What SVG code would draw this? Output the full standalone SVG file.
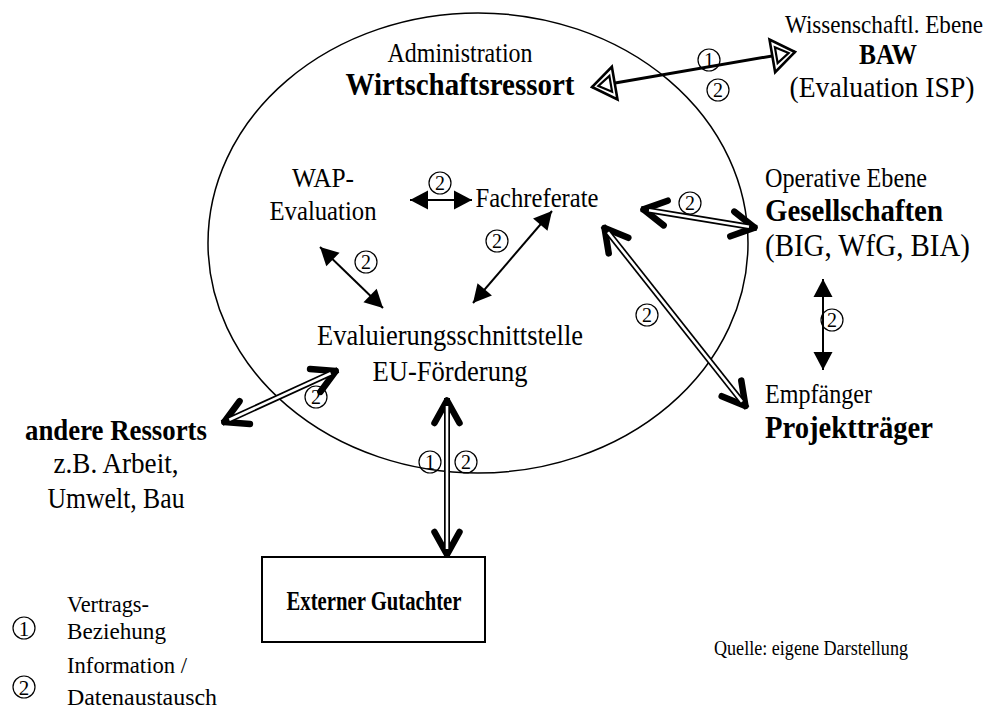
<svg xmlns="http://www.w3.org/2000/svg" width="999" height="727" viewBox="0 0 999 727">
<style>
text{font-family:"Liberation Serif","Times New Roman",serif;fill:#000}
.n{font-size:27px}
.b{font-size:31px;font-weight:bold}
.m{text-anchor:middle}
.num{font-size:20px;text-anchor:middle}
.nc{fill:none;stroke:#000;stroke-width:1.2}
.thin{stroke:#000;stroke-width:2;fill:none;marker-start:url(#tri);marker-end:url(#tri)}
.dblo{stroke:#000;stroke-width:6;fill:none;marker-start:url(#chev);marker-end:url(#chev)}
.dbli{stroke:#fff;stroke-width:2.6;fill:none}
</style>
<defs>
<marker id="chev" markerUnits="userSpaceOnUse" orient="auto-start-reverse" markerWidth="60" markerHeight="60" refX="0" refY="0" viewBox="-30 -30 60 60" overflow="visible">
<path d="M-25,-12.5 L-2.5,0 L-25,12.5" fill="none" stroke="#000" stroke-width="6.5" stroke-linecap="round" stroke-linejoin="round"/>
</marker>
<marker id="tri" markerUnits="userSpaceOnUse" orient="auto-start-reverse" markerWidth="40" markerHeight="40" refX="0" refY="0" viewBox="-20 -20 40 40" overflow="visible">
<path d="M0,0 L-18,-9.5 L-18,9.5 Z" fill="#000"/>
</marker>
<marker id="hol" markerUnits="userSpaceOnUse" orient="auto-start-reverse" markerWidth="60" markerHeight="60" refX="0" refY="0" viewBox="-30 -30 60 60" overflow="visible">
<path d="M0,0 L-23,-16.5 L-23,16.5 Z" fill="#fff" stroke="#000" stroke-width="2.6" stroke-linejoin="miter"/>
<path d="M-6.5,0 L-19,-8 L-19,8 Z" fill="#fff" stroke="#000" stroke-width="2.2"/>
</marker>
</defs>
<rect width="999" height="727" fill="#fff"/>
<ellipse cx="478" cy="243" rx="270" ry="230" fill="none" stroke="#000" stroke-width="1.5"/>

<g id="connectors">
<line x1="592" y1="87" x2="795" y2="52" stroke="#000" stroke-width="3" marker-start="url(#hol)" marker-end="url(#hol)"/>
<line class="thin" x1="410" y1="200" x2="472" y2="200"/>
<line class="thin" x1="320" y1="247" x2="383" y2="308"/>
<line class="thin" x1="552" y1="211" x2="473" y2="303"/>
<line class="thin" x1="823" y1="279" x2="823" y2="370"/>
<line class="dblo" x1="641" y1="209" x2="757" y2="228"/>
<line class="dbli" x1="649" y1="210.3" x2="749" y2="226.7"/>
<line class="dblo" x1="603" y1="226" x2="747" y2="408"/>
<line class="dbli" x1="608" y1="232.3" x2="742" y2="401.7"/>
<line class="dblo" x1="222" y1="423" x2="338" y2="370"/>
<line class="dbli" x1="229.3" y1="419.7" x2="330.7" y2="373.3"/>
<line class="dblo" x1="447" y1="398" x2="447" y2="557"/>
<line class="dbli" x1="447" y1="406" x2="447" y2="549"/>
<g id="labels">
<circle class="nc" cx="709" cy="60" r="11"/><text class="num" x="709" y="67">1</text>
<circle class="nc" cx="718" cy="90" r="11"/><text class="num" x="718" y="97">2</text>
<circle class="nc" cx="440" cy="183" r="11"/><text class="num" x="440" y="190">2</text>
<circle class="nc" cx="690" cy="203" r="11"/><text class="num" x="690" y="210">2</text>
<circle class="nc" cx="366" cy="262" r="11"/><text class="num" x="366" y="269">2</text>
<circle class="nc" cx="497" cy="241" r="11"/><text class="num" x="497" y="248">2</text>
<circle class="nc" cx="647" cy="315" r="11"/><text class="num" x="647" y="322">2</text>
<circle class="nc" cx="832" cy="320" r="11"/><text class="num" x="832" y="327">2</text>
<circle class="nc" cx="316" cy="397" r="11"/><text class="num" x="316" y="404">2</text>
<circle class="nc" cx="430" cy="462" r="11"/><text class="num" x="430" y="469">1</text>
<circle class="nc" cx="466" cy="462" r="11"/><text class="num" x="466" y="469">2</text>
</g>
</g>

<g id="wirtschaftsressort">
<text class="n m" x="460" y="62" textLength="145" lengthAdjust="spacingAndGlyphs">Administration</text>
<text class="b m" x="460" y="95" textLength="229" lengthAdjust="spacingAndGlyphs">Wirtschaftsressort</text>
</g>
<g id="baw">
<text class="n m" x="884" y="33" style="font-size:25px" textLength="198" lengthAdjust="spacingAndGlyphs">Wissenschaftl. Ebene</text>
<text class="b m" x="888" y="64" style="font-size:29px" textLength="58" lengthAdjust="spacingAndGlyphs">BAW</text>
<text class="n m" x="882" y="97" style="font-size:30px" textLength="185" lengthAdjust="spacingAndGlyphs">(Evaluation ISP)</text>
</g>
<g id="wap">
<text class="n m" x="323" y="187" textLength="62" lengthAdjust="spacingAndGlyphs">WAP-</text>
<text class="n m" x="323" y="220" textLength="107" lengthAdjust="spacingAndGlyphs">Evaluation</text>
</g>
<g id="fachreferate">
<text class="n m" x="537" y="207" textLength="123" lengthAdjust="spacingAndGlyphs">Fachreferate</text>
</g>
<g id="gesellschaften">
<text class="n" x="765" y="187" textLength="162" lengthAdjust="spacingAndGlyphs">Operative Ebene</text>
<text class="b" x="765" y="221" textLength="178" lengthAdjust="spacingAndGlyphs">Gesellschaften</text>
<text class="n" x="765" y="256" style="font-size:31px" textLength="205" lengthAdjust="spacingAndGlyphs">(BIG, WfG, BIA)</text>
</g>
<g id="projekttraeger">
<text class="n" x="765" y="403" textLength="107" lengthAdjust="spacingAndGlyphs">Empfänger</text>
<text class="b" x="765" y="438" textLength="168" lengthAdjust="spacingAndGlyphs">Projektträger</text>
</g>
<g id="evaluierung">
<text class="n m" x="450" y="345" style="font-size:29px" textLength="266" lengthAdjust="spacingAndGlyphs">Evaluierungsschnittstelle</text>
<text class="n m" x="450" y="381" style="font-size:29px" textLength="155" lengthAdjust="spacingAndGlyphs">EU-Förderung</text>
</g>
<g id="andere">
<text class="b m" x="116" y="440" style="font-size:29px" textLength="182" lengthAdjust="spacingAndGlyphs">andere Ressorts</text>
<text class="n m" x="116" y="473" style="font-size:29px" textLength="125" lengthAdjust="spacingAndGlyphs">z.B. Arbeit,</text>
<text class="n m" x="116" y="508" style="font-size:29px" textLength="137" lengthAdjust="spacingAndGlyphs">Umwelt, Bau</text>
</g>
<g id="gutachter">
<rect x="262" y="557" width="223" height="85" fill="#fff" stroke="#000" stroke-width="2"/>
<text class="b m" x="374" y="610" style="font-size:28px" textLength="175" lengthAdjust="spacingAndGlyphs">Externer Gutachter</text>
</g>
<g id="legend">
<circle class="nc" cx="24" cy="628" r="11"/><text class="num" x="24" y="635.5" style="font-size:21px">1</text>
<text class="n" x="67" y="612" style="font-size:24px" textLength="82" lengthAdjust="spacingAndGlyphs">Vertrags-</text>
<text class="n" x="67" y="639" style="font-size:24px" textLength="99" lengthAdjust="spacingAndGlyphs">Beziehung</text>
<circle class="nc" cx="24" cy="687" r="11"/><text class="num" x="24" y="694.5" style="font-size:21px">2</text>
<text class="n" x="67" y="673" style="font-size:24px" textLength="120" lengthAdjust="spacingAndGlyphs">Information /</text>
<text class="n" x="67" y="705" style="font-size:24px" textLength="150" lengthAdjust="spacingAndGlyphs">Datenaustausch</text>
</g>
<g id="quelle">
<text class="n" x="714" y="655" style="font-size:20px" textLength="194" lengthAdjust="spacingAndGlyphs">Quelle: eigene Darstellung</text>
</g>
</svg>
